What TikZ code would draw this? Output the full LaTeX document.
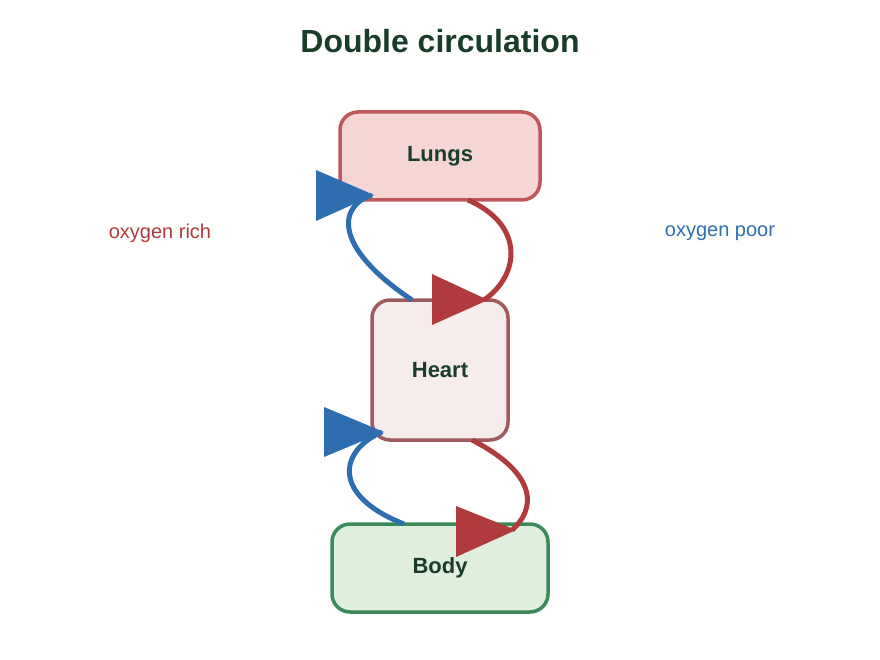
\documentclass[tikz,border=0pt]{standalone}
\usepackage{fontspec}
\setmainfont{Liberation Sans}
\definecolor{ttl}{HTML}{1A3D2A}
\definecolor{red1}{HTML}{B03A3C}
\definecolor{blue1}{HTML}{2E6EB0}
\begin{document}
\begin{tikzpicture}[x=1pt,y=-1pt,
  box/.style={draw,line width=3.5pt,rounded corners=18pt,font=\fontsize{22}{26}\selectfont\bfseries,text=ttl},
  flow/.style={line width=5pt},
  lab/.style={font=\fontsize{20}{24}\selectfont}]
\useasboundingbox (0,0) rectangle (880,660);
\node[font=\fontsize{32}{38}\selectfont\bfseries,text=ttl] (title) at (440,41) {Double circulation};
\node[box,draw={rgb,255:red,192;green,87;blue,90},fill={rgb,255:red,246;green,213;blue,213},minimum width=200,minimum height=88] (lungs) at (440,156) {Lungs};
\node[box,draw={rgb,255:red,158;green,90;blue,94},fill={rgb,255:red,246;green,236;blue,236},minimum width=136,minimum height=140] (heart) at (440,370) {Heart};
\node[box,draw={rgb,255:red,59;green,138;blue,90},fill={rgb,255:red,224;green,238;blue,222},minimum width=216,minimum height=88] (body) at (440,568) {Body};
\node[lab,text=red1] (rich) at (160,233) {oxygen rich};
\node[lab,text=blue1] (poor) at (720,233) {oxygen poor};
% top loop
\coordinate (b1) at (412,300); \coordinate (b1e) at (372,195);
\draw[flow,blue1] (b1) .. controls (330,245) and (340,205) .. (b1e);
\fill[blue1] (316,170) -- (374,195) -- (316,221) -- cycle;
\coordinate (r1) at (468,200); \coordinate (r1e) at (484,300);
\draw[flow,red1] (r1) .. controls (525,225) and (520,275) .. (r1e);
\fill[red1] (432,274) -- (488,300) -- (432,325) -- cycle;
% bottom loop
\coordinate (b2) at (404,524); \coordinate (b2e) at (382,432);
\draw[flow,blue1] (b2) .. controls (330,495) and (340,450) .. (b2e);
\fill[blue1] (324,407) -- (384,432) -- (324,457) -- cycle;
\coordinate (r2) at (472,440); \coordinate (r2e) at (512,530);
\draw[flow,red1] (r2) .. controls (540,475) and (535,510) .. (r2e);
\fill[red1] (456,506) -- (516,530) -- (456,557) -- cycle;
\end{tikzpicture}
\end{document}
